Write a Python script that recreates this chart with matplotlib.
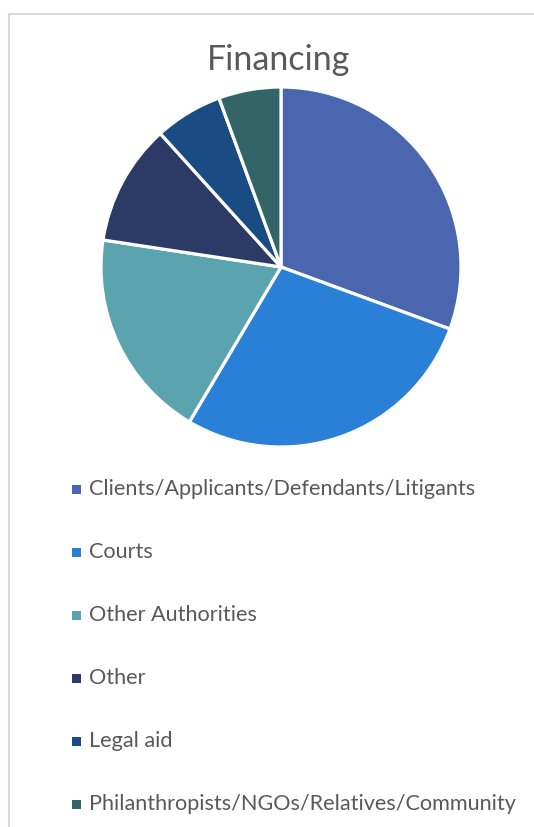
import matplotlib.pyplot as plt
from matplotlib.patches import Rectangle
from matplotlib.lines import Line2D

# funding sources (share of respondents, %)
labels = [
    "Clients/Applicants/Defendants/Litigants",
    "Courts",
    "Other Authorities",
    "Other",
    "Legal aid",
    "Philanthropists/NGOs/Relatives/Community",
]
shares = [30.6, 27.9, 18.9, 10.9, 6.1, 5.6]
colors = ["#4A66AE", "#2A7FD6", "#5BA3AE", "#2C3B66", "#1A4C84", "#336568"]

W, H = 534, 827
fig = plt.figure(figsize=(W / 100, H / 100), dpi=100)
plt.rcParams['font.family'] = ['Lato', 'DejaVu Sans']

# light grey chart frame (top and left edges)
frame_color = "#D9D9D9"
fig.add_artist(Line2D([9 / W, 1], [1 - 13.5 / H, 1 - 13.5 / H], color=frame_color, lw=1.5))
fig.add_artist(Line2D([9 / W, 9 / W], [0, 1 - 13.5 / H], color=frame_color, lw=1.5))

fig.text(279 / W, 1 - 60 / H, "Financing", ha="center", va="center",
         fontsize=24.5, color="#595959")

# pie area
cx, cy, r = 281, 267, 180
ax = fig.add_axes([(cx - r) / W, 1 - (cy + r) / H, 2 * r / W, 2 * r / H])
ax.pie(shares, colors=colors, startangle=90, counterclock=False,
       wedgeprops=dict(edgecolor="white", linewidth=2.3))
ax.set_xlim(-1, 1)
ax.set_ylim(-1, 1)
ax.set_aspect("equal")
ax.axis("off")

# legend rows
y0, step = 489, 63
for i, (lab, col) in enumerate(zip(labels, colors)):
    y = y0 + i * step
    fig.add_artist(Rectangle((72 / W, 1 - (y + 4.5) / H), 9 / W, 9 / H,
                             transform=fig.transFigure, color=col, lw=0))
    fig.text(89 / W, 1 - y / H, lab, ha="left", va="center",
             fontsize=15.6, color="#595959")

fig.savefig("out.png", dpi=100)
